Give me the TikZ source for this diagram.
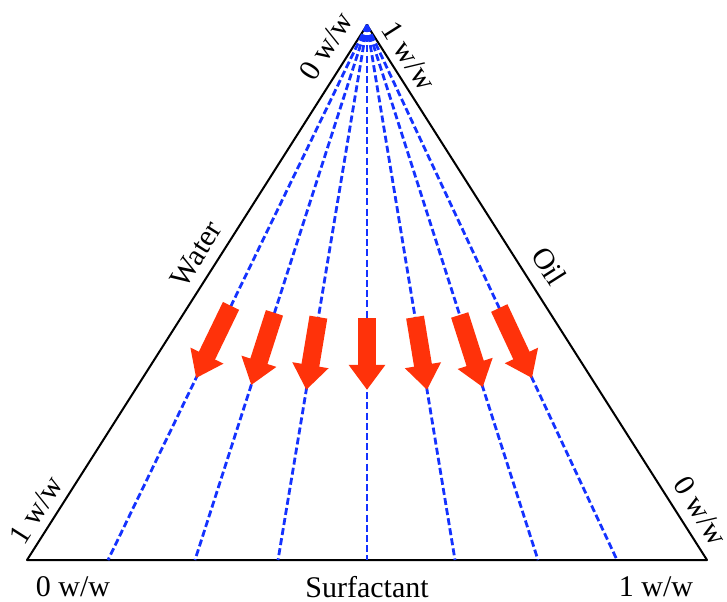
\documentclass[tikz,border=0pt]{standalone}
\usepackage{fontspec}
\setmainfont{Liberation Serif}
\usetikzlibrary{arrows.meta,calc}

\definecolor{lineblue}{RGB}{20,50,255}
\definecolor{arrowred}{RGB}{255,50,10}

\tikzset{
  tie/.style={draw=lineblue, line width=1.4pt, dash pattern=on 3.5pt off 1.6pt},
  flow/.style={draw=arrowred, line width=9pt, -{Triangle[width=17.5pt, length=12.5pt]}},
  lbl/.style={font=\fontsize{15}{18}\selectfont, inner sep=0pt}
}

\begin{document}
\begin{tikzpicture}[x=0.5pt, y=-0.5pt]
  \useasboundingbox (0,0) rectangle (727,601);

  \coordinate (top) at (367,25);
  \coordinate (left) at (27,560);
  \coordinate (right) at (707,560);
  \coordinate (b1) at (108,560);
  \coordinate (b2) at (195,560);
  \coordinate (b3) at (278,560);
  \coordinate (b4) at (367,560);
  \coordinate (b5) at (455,560);
  \coordinate (b6) at (538,560);
  \coordinate (b7) at (617,560);

  \draw[line width=1pt, line join=round] (left) -- (top) -- (right) -- cycle;

  % tie lines
  \draw[tie] (top) -- (b1);
  \draw[tie] (top) -- (b2);
  \draw[tie] (top) -- (b3);
  \draw[tie] (top) -- (b4);
  \draw[tie] (top) -- (b5);
  \draw[tie] (top) -- (b6);
  \draw[tie] (top) -- (b7);

  % arrows
  \draw[flow] ($(top)!0.525!(b1)$) -- ($(top)!0.66!(b1)$);
  \draw[flow] ($(top)!0.538!(b2)$) -- ($(top)!0.673!(b2)$);
  \draw[flow] ($(top)!0.546!(b3)$) -- ($(top)!0.682!(b3)$);
  \draw[flow] ($(top)!0.548!(b4)$) -- ($(top)!0.682!(b4)$);
  \draw[flow] ($(top)!0.546!(b5)$) -- ($(top)!0.682!(b5)$);
  \draw[flow] ($(top)!0.542!(b6)$) -- ($(top)!0.677!(b6)$);
  \draw[flow] ($(top)!0.529!(b7)$) -- ($(top)!0.66!(b7)$);

  % labels
  \node[lbl] (surf) at (367,587) {Surfactant};
  \node[lbl] (surf0) at (73,587) {0 w/w};
  \node[lbl] (surf1) at (656,587) {1 w/w};
  \node[lbl, rotate=57.6] (water) at (196,254) {Water};
  \node[lbl, rotate=57.6] (water0) at (326,46) {0 w/w};
  \node[lbl, rotate=57.6] (water1) at (36,510) {1 w/w};
  \node[lbl, rotate=-57.6] (oil) at (549,266) {Oil};
  \node[lbl, rotate=-57.6] (oil1) at (409,56) {1 w/w};
  \node[lbl, rotate=-57.6] (oil0) at (701,511) {0 w/w};
\end{tikzpicture}
\end{document}
